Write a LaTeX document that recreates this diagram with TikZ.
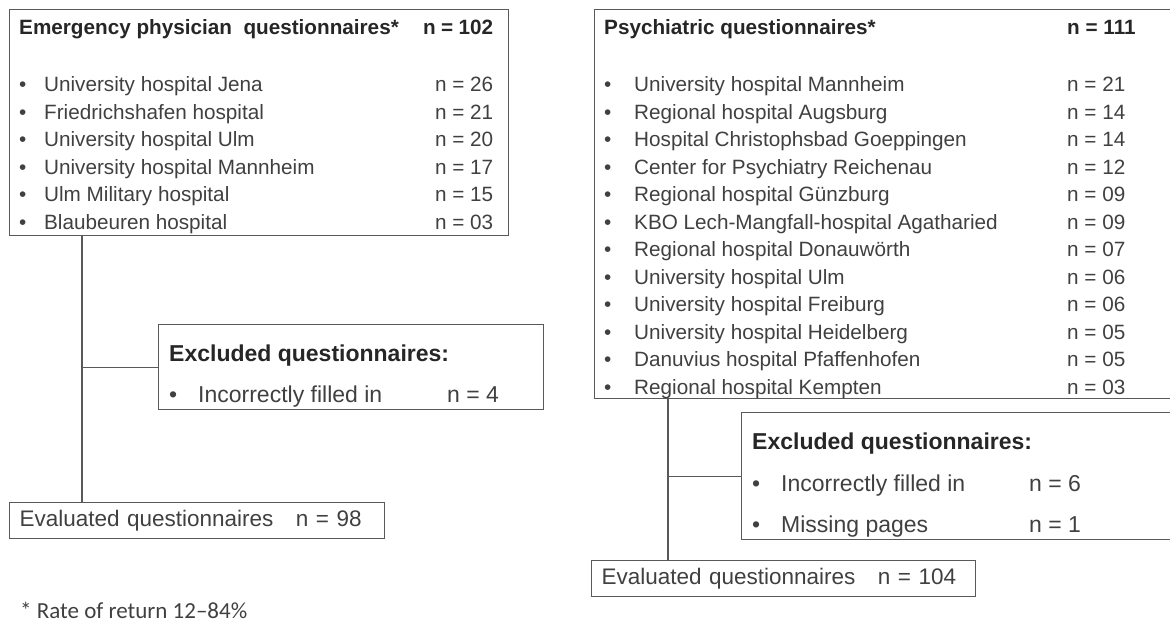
\documentclass[tikz,border=0pt]{standalone}
\usepackage{fontspec}
\setmainfont{Liberation Sans}
\newfontfamily\notafont{Carlito}
\usepackage{array}
\usetikzlibrary{positioning}
\newcommand{\titolo}[1]{\textbf{\textcolor{black!85}{#1}}}

\begin{document}
\begin{tikzpicture}[x=1pt, y=-1pt]

  % Stili dei nodi
  \tikzstyle{riquadro} = [draw=black!65, line width=1.2pt, inner sep=0, anchor=north west]
  \tikzstyle{elenco} = [inner sep=0, anchor=base west, text=black!75, font=\fontsize{20.7}{27.5}\selectfont]
  \tikzstyle{esclusi} = [elenco, font=\fontsize{23}{27.5}\selectfont]
  \tikzstyle{totale} = [riquadro, text=black!75, font=\fontsize{22.5}{27.5}\selectfont, minimum height=36pt, inner xsep=10pt, align=left]
  \tikzstyle{linea} = [draw=black!65, line width=1.2pt]

  \useasboundingbox (0,0) rectangle (1170,623);

  % Riquadri
  \node[riquadro, minimum width=499pt, minimum height=226pt] (medici) at (9,9) {};
  \node[riquadro, minimum width=578pt, minimum height=389pt] (psichiatri) at (594,9) {};
  \node[riquadro, minimum width=385pt, minimum height=85pt] (esclusi1) at (158,324) {};
  \node[riquadro, minimum width=431pt, minimum height=127pt] (esclusi2) at (741,412) {};
  \node[totale, minimum width=375pt, text width=355pt] (valutati1) at (9,502) {Evaluated questionnaires\hspace{15pt} n = 98};
  \node[totale, minimum width=384pt, text width=364pt] (valutati2) at (591,560) {Evaluated questionnaires\hspace{15pt} n = 104};

  % Testi
  \node[elenco] (medici-testo) at (19,35) {%
    \begin{tabular}[t]{@{}p{25pt}@{}p{379pt}@{}>{\raggedleft\arraybackslash}p{70pt}@{}}
      \multicolumn{2}{@{}l}{\titolo{Emergency physician~ questionnaires*}} & \titolo{n = 102}\\[29.5pt]
      \textbullet & University hospital Jena & n = 26\\
      \textbullet & Friedrichshafen hospital & n = 21\\
      \textbullet & University hospital Ulm & n = 20\\
      \textbullet & University hospital Mannheim & n = 17\\
      \textbullet & Ulm Military hospital & n = 15\\
      \textbullet & Blaubeuren hospital & n = 03
    \end{tabular}};
  \node[elenco] (psichiatri-testo) at (604,35) {%
    \begin{tabular}[t]{@{}p{30pt}@{}p{433pt}@{}l@{}}
      \multicolumn{2}{@{}l}{\titolo{Psychiatric questionnaires*}} & \titolo{n = 111}\\[29.5pt]
      \textbullet & University hospital Mannheim & n = 21\\
      \textbullet & Regional hospital Augsburg & n = 14\\
      \textbullet & Hospital Christophsbad Goeppingen & n = 14\\
      \textbullet & Center for Psychiatry Reichenau & n = 12\\
      \textbullet & Regional hospital Günzburg & n = 09\\
      \textbullet & KBO Lech-Mangfall-hospital Agatharied & n = 09\\
      \textbullet & Regional hospital Donauwörth & n = 07\\
      \textbullet & University hospital Ulm & n = 06\\
      \textbullet & University hospital Freiburg & n = 06\\
      \textbullet & University hospital Heidelberg & n = 05\\
      \textbullet & Danuvius hospital Pfaffenhofen & n = 05\\
      \textbullet & Regional hospital Kempten & n = 03
    \end{tabular}};
  \node[esclusi] (esclusi1-testo) at (169,361) {%
    \begin{tabular}[t]{@{}p{29pt}@{}p{249pt}@{}l@{}}
      \multicolumn{3}{@{}l}{\titolo{Excluded questionnaires:}}\\[13.5pt]
      \textbullet & Incorrectly filled in & n = 4
    \end{tabular}};
  \node[esclusi] (esclusi2-testo) at (752,449) {%
    \begin{tabular}[t]{@{}p{29pt}@{}p{248pt}@{}l@{}}
      \multicolumn{3}{@{}l}{\titolo{Excluded questionnaires:}}\\[14.5pt]
      \textbullet & Incorrectly filled in & n = 6\\[13.5pt]
      \textbullet & Missing pages & n = 1
    \end{tabular}};
  \node[anchor=base west, inner sep=0, text=black!75, font=\notafont\fontsize{23}{27}\selectfont] (nota) at (20,618) {* Rate of return 12–84\%};

  % Collegamenti
  \coordinate (snodo1) at (82,0 |- esclusi1.west);
  \coordinate (snodo2) at (668,0 |- esclusi2.west);
  \draw[linea] (medici.south -| snodo1) -- (valutati1.north -| snodo1);
  \draw[linea] (snodo1) -- (esclusi1.west);
  \draw[linea] (psichiatri.south -| snodo2) -- (valutati2.north -| snodo2);
  \draw[linea] (snodo2) -- (esclusi2.west);

\end{tikzpicture}
\end{document}
